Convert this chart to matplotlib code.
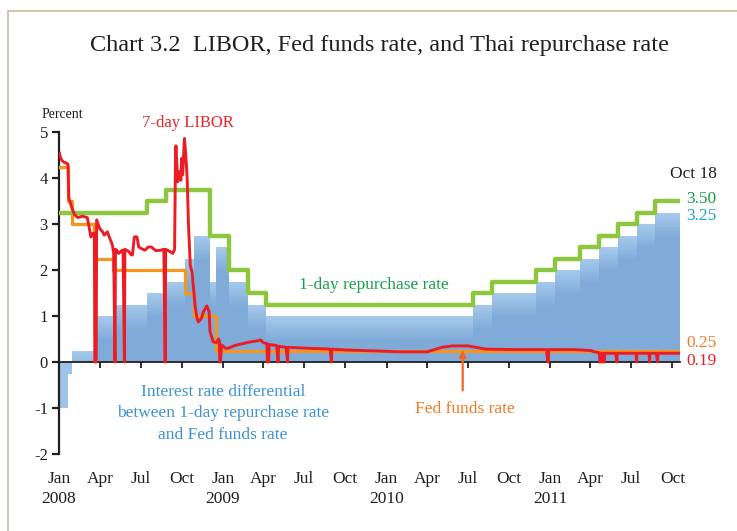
import numpy as np
import pandas as pd
import matplotlib
matplotlib.use('Agg')
import matplotlib.pyplot as plt
from matplotlib.colors import to_rgb
from matplotlib.patches import Rectangle

plt.rcParams['font.family'] = ['Liberation Serif', 'DejaVu Serif']

# policy rate steps (value holds from the date until the next one)
step_dates = ['2008-01-01', '2008-01-22', '2008-01-30', '2008-03-18', '2008-04-30',
              '2008-07-16', '2008-08-27', '2008-10-08', '2008-10-29', '2008-12-03',
              '2008-12-16', '2009-01-14', '2009-02-25', '2009-04-08', '2010-07-14',
              '2010-08-25', '2010-12-01', '2011-01-12', '2011-03-09', '2011-04-20',
              '2011-06-01', '2011-07-13', '2011-08-24', '2011-10-18']
repo_rate = [3.25, 3.25, 3.25, 3.25, 3.25, 3.50, 3.75, 3.75, 3.75, 2.75, 2.75, 2.00,
             1.50, 1.25, 1.50, 1.75, 2.00, 2.25, 2.50, 2.75, 3.00, 3.25, 3.50, 3.50]
fed_rate = [4.25, 3.50, 3.00, 2.25, 2.00, 2.00, 2.00, 1.50, 1.00, 1.00, 0.25, 0.25,
            0.25, 0.25, 0.25, 0.25, 0.25, 0.25, 0.25, 0.25, 0.25, 0.25, 0.25, 0.25]
rate_diff = [-1.00, -0.25, 0.25, 1.00, 1.25, 1.50, 1.75, 2.25, 2.75, 1.75, 2.50, 1.75,
             1.25, 1.00, 1.25, 1.50, 1.75, 2.00, 2.25, 2.50, 2.75, 3.00, 3.25, 3.25]

# 7-day LIBOR (zeros are the missing days)
libor_dates = ['2008-01-02', '2008-01-04', '2008-01-07', '2008-01-11', '2008-01-18', '2008-01-21',
               '2008-01-23', '2008-01-25', '2008-01-30', '2008-02-05', '2008-02-12', '2008-02-22',
               '2008-03-04', '2008-03-07', '2008-03-12', '2008-03-17', '2008-03-20', '2008-03-21',
               '2008-03-24', '2008-03-25', '2008-04-01', '2008-04-08', '2008-04-11', '2008-04-18',
               '2008-04-22', '2008-04-25', '2008-04-29', '2008-05-02', '2008-05-05', '2008-05-06',
               '2008-05-09', '2008-05-13', '2008-05-21', '2008-05-23', '2008-05-26', '2008-05-27',
               '2008-06-05', '2008-06-10', '2008-06-13', '2008-06-17', '2008-06-23', '2008-06-27',
               '2008-07-02', '2008-07-11', '2008-07-18', '2008-07-25', '2008-08-04', '2008-08-15',
               '2008-08-22', '2008-08-25', '2008-08-26', '2008-09-05', '2008-09-11', '2008-09-15',
               '2008-09-17', '2008-09-18', '2008-09-22', '2008-09-25', '2008-09-29', '2008-10-01',
               '2008-10-03', '2008-10-07', '2008-10-10', '2008-10-13', '2008-10-16', '2008-10-20',
               '2008-10-24', '2008-10-31', '2008-11-04', '2008-11-07', '2008-11-14', '2008-11-18',
               '2008-11-26', '2008-12-01', '2008-12-03', '2008-12-10', '2008-12-17', '2008-12-22',
               '2008-12-24', '2008-12-25', '2008-12-26', '2008-12-29', '2009-01-06', '2009-01-13',
               '2009-01-28', '2009-02-27', '2009-03-19', '2009-03-26', '2009-04-01', '2009-04-09',
               '2009-04-10', '2009-04-13', '2009-04-14', '2009-04-30', '2009-05-01', '2009-05-04',
               '2009-05-05', '2009-05-22', '2009-05-25', '2009-05-26', '2009-07-07', '2009-08-28',
               '2009-08-31', '2009-09-01', '2009-10-05', '2009-12-10', '2010-02-01', '2010-04-01',
               '2010-05-05', '2010-05-28', '2010-07-02', '2010-08-10', '2010-10-15', '2010-12-24',
               '2010-12-27', '2010-12-28', '2010-12-29', '2011-02-24', '2011-04-01', '2011-04-11',
               '2011-04-21', '2011-04-22', '2011-04-25', '2011-04-26', '2011-04-28', '2011-04-29',
               '2011-05-02', '2011-05-03', '2011-05-27', '2011-05-30', '2011-05-31', '2011-07-12',
               '2011-07-13', '2011-07-14', '2011-08-10', '2011-08-11', '2011-08-12', '2011-08-26',
               '2011-08-29', '2011-08-30', '2011-10-18']
libor_rate = [4.54, 4.45, 4.39, 4.35, 4.32, 4.30,
              3.56, 3.50, 3.34, 3.20, 3.14, 3.17,
              3.14, 3.00, 2.72, 2.80, 2.80, 0,
              0, 3.09, 2.90, 2.82, 2.76, 2.83,
              2.72, 2.65, 2.55, 2.37, 0, 2.45,
              2.43, 2.36, 2.43, 2.43, 0, 2.45,
              2.40, 2.33, 2.33, 2.72, 2.72, 2.50,
              2.47, 2.43, 2.50, 2.50, 2.42, 2.43,
              2.45, 0, 2.45, 2.40, 2.36, 2.45,
              4.45, 4.70, 3.92, 4.14, 3.95, 4.43,
              4.07, 4.86, 4.50, 4.00, 2.98, 2.10,
              1.95, 1.20, 0.95, 0.87, 0.95, 1.09,
              1.22, 1.09, 0.66, 0.44, 0.42, 0.50,
              0.45, 0, 0, 0.37, 0.30, 0.30,
              0.36, 0.43, 0.46, 0.48, 0.42, 0.40,
              0, 0, 0.38, 0.36, 0.35, 0,
              0.34, 0.32, 0, 0.32, 0.30, 0.28,
              0, 0.28, 0.26, 0.24, 0.22, 0.22,
              0.32, 0.35, 0.35, 0.28, 0.27, 0.27,
              0, 0, 0.27, 0.27, 0.25, 0.22,
              0.20, 0, 0, 0.19, 0.19, 0,
              0, 0.19, 0.19, 0, 0.19, 0.19,
              0, 0.19, 0.19, 0, 0.19, 0.19,
              0, 0.19, 0.19]

tick_dates = ['2008-01-01', '2008-04-01', '2008-07-01', '2008-10-01',
              '2009-01-01', '2009-04-01', '2009-07-01', '2009-10-01',
              '2010-01-01', '2010-04-01', '2010-07-01', '2010-10-01',
              '2011-01-01', '2011-04-01', '2011-07-01', '2011-10-01']
tick_labels = ['Jan\n2008', 'Apr', 'Jul', 'Oct', 'Jan\n2009', 'Apr', 'Jul', 'Oct',
               'Jan\n2010', 'Apr', 'Jul', 'Oct', 'Jan\n2011', 'Apr', 'Jul', 'Oct']
y_ticks = [-2, -1, 0, 1, 2, 3, 4, 5]
y_labels = ['-2', '-1', '0', '1', '2', '3', '4', '5']

GREEN = '#8DC63F'
ORANGE = '#F7941D'
RED = '#EC1C24'
BLUE_BODY = '#80ABD9'
BLUE_TOP = '#A5C9EB'

W, H = 737, 531
fig = plt.figure(figsize=(W / 100, H / 100), dpi=100)
ax = fig.add_axes([59 / W, 1 - 454 / H, 621 / W, 322 / H])

sd = pd.to_datetime(step_dates)
diff = np.array(rate_diff)
pos = np.clip(diff, 0, None)
neg = np.clip(diff, None, 0)

# interest rate differential, fading lighter towards the top of each step
ax.fill_between(sd, 0, pos, step='post', color=BLUE_BODY, lw=0, zorder=1)
c0, c1 = np.array(to_rgb(BLUE_BODY)), np.array(to_rgb(BLUE_TOP))
n_shade = 14
for k in range(n_shade):
    depth = 0.5 * (1 - k / n_shade)
    col = c0 + (c1 - c0) * (k + 1) / n_shade
    ax.fill_between(sd, np.clip(pos - depth, 0, None), pos, step='post',
                    color=col, lw=0, zorder=1)
ax.fill_between(sd, neg, 0, step='post', color='#9DC3E8', lw=0, zorder=1)

ax.step(sd, fed_rate, where='post', color=ORANGE, lw=2.3, zorder=3)
ax.step(sd, repo_rate, where='post', color=GREEN, lw=3.2, zorder=4)
ax.plot(pd.to_datetime(libor_dates), libor_rate, color=RED, lw=2.1, zorder=5)

ax.set_xlim(pd.Timestamp('2008-01-01'), pd.Timestamp('2011-10-18'))
ax.set_ylim(-2, 5)

for s in ['top', 'right']:
    ax.spines[s].set_visible(False)
ax.spines['bottom'].set_position(('data', 0))
ax.spines['left'].set_linewidth(1.6)
ax.spines['bottom'].set_linewidth(1.3)
ax.spines['left'].set_color('#231F20')
ax.spines['bottom'].set_color('#231F20')

ax.set_xticks(pd.to_datetime(tick_dates))
ax.set_xticklabels(tick_labels, fontsize=12.5, color='#231F20', linespacing=1.3)
ax.set_yticks(y_ticks)
ax.set_yticklabels(y_labels, fontsize=12, color='#231F20')
ax.tick_params(axis='x', length=4.5, width=1.3, pad=74, color='#231F20')
ax.tick_params(axis='y', length=5, width=1.6, pad=3, color='#231F20')
ax.patch.set_alpha(0)


def ftext(x, y, s, **kw):
    fig.text(x / W, 1 - y / H, s, va='center', **kw)


ftext(380, 46, 'Chart 3.2  LIBOR, Fed funds rate, and Thai repurchase rate',
      ha='center', fontsize=17.5, color='#231F20')
ftext(42, 115, 'Percent', ha='left', fontsize=10, color='#231F20')
ftext(188, 123, '7-day LIBOR', ha='center', fontsize=12, color='#E8262C')
ftext(374, 285, '1-day repurchase rate', ha='center', fontsize=12.5, color='#17A04B')
ftext(223, 392, 'Interest rate differential', ha='center', fontsize=12.5, color='#3D93D2')
ftext(223, 413, 'between 1-day repurchase rate', ha='center', fontsize=12.5, color='#3D93D2')
ftext(223, 435, 'and Fed funds rate', ha='center', fontsize=12.5, color='#3D93D2')
ftext(465, 409, 'Fed funds rate', ha='center', fontsize=12.5, color='#F37B22')
ftext(693, 174, 'Oct 18', ha='center', fontsize=12.5, color='#231F20')
ftext(686, 199, '3.50', ha='left', fontsize=12.5, color='#17A04B')
ftext(686, 216, '3.25', ha='left', fontsize=12.5, color='#1E9BDD')
ftext(686, 343, '0.25', ha='left', fontsize=12.5, color='#F37B22')
ftext(686, 361, '0.19', ha='left', fontsize=12.5, color='#EC1C24')

ax.annotate('', xy=(pd.Timestamp('2010-06-20'), 0.26), xytext=(pd.Timestamp('2010-06-20'), -0.62),
            arrowprops=dict(arrowstyle='-|>', color='#F26522', lw=1.6, mutation_scale=10,
                            shrinkA=0, shrinkB=0), zorder=6)

# frame around the chart
fig.patches.append(Rectangle((8 / W, -0.1), 1.2, 1 - 11 / H + 0.1, transform=fig.transFigure,
                             fill=False, edgecolor='#C8BE9E', lw=1.2))

fig.savefig('out.png', dpi=100)
